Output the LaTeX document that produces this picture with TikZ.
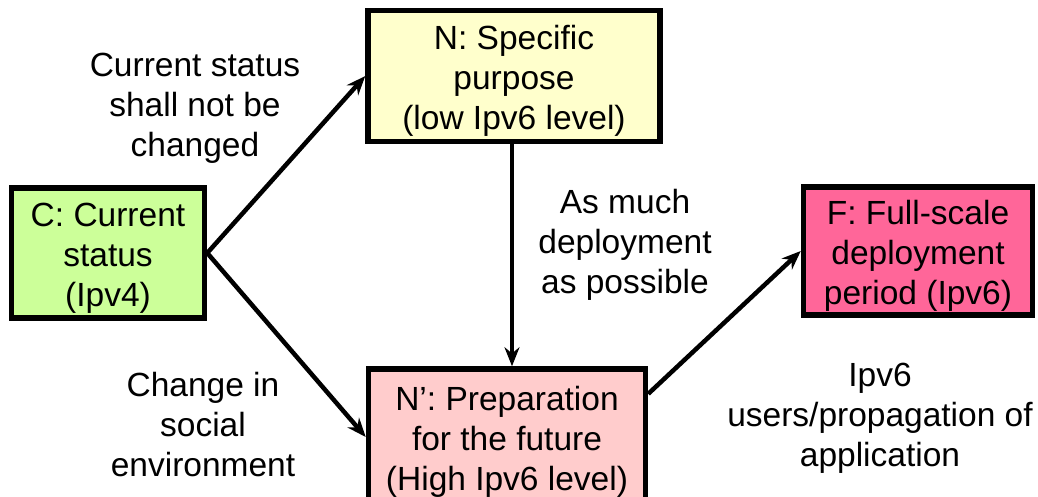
\documentclass[tikz,border=0pt]{standalone}
\usepackage{fontspec}
\setmainfont{Liberation Sans}
\usetikzlibrary{arrows.meta,positioning}
\definecolor{cgreen}{HTML}{CCFF99}
\definecolor{nyellow}{HTML}{FFFFCC}
\definecolor{npink}{HTML}{FFCCCC}
\definecolor{fpink}{HTML}{FF6699}
\newcommand{\toppad}{\rule{0pt}{33pt}}

\begin{document}
\begin{tikzpicture}
	[x=1pt,y=-1pt,
	stage/.style={shape=rectangle,draw,line width=5.5pt,align=center,
		inner sep=0pt,font=\fontsize{33.5}{40}\selectfont},
	note/.style={align=center,inner sep=0pt,font=\fontsize{33.5}{40}\selectfont},
	flow/.style={line width=4.5pt,-{Stealth[length=19pt,width=15pt]}}]
	\useasboundingbox (0,0) rectangle (1038,497);
	\node[stage,fill=cgreen,minimum width=193pt,minimum height=130pt] (C) at (108,253)
		{\toppad C: Current\\status\\(Ipv4)};
	\node[stage,fill=nyellow,minimum width=292pt,minimum height=131pt] (N) at (514,76)
		{\toppad N: Specific\\purpose\\(low Ipv6 level)};
	\node[stage,fill=npink,minimum width=277pt,minimum height=136pt] (Np) at (507,437)
		{\toppad N’: Preparation\\for the future\\(High Ipv6 level)};
	\node[stage,fill=fpink,minimum width=229pt,minimum height=128pt] (F) at (918,251)
		{\toppad F: Full-scale\\deployment\\period (Ipv6)};
	% labels on the arrows
	\node[note] (l1) at (195,108) {Current status\\shall not be\\changed};
	\node[note] (l2) at (625,245) {As much\\deployment\\as possible};
	\node[note] (l3) at (203,425) {Change in\\social\\environment};
	\node[note] (l4) at (880,418) {Ipv6\\users/propagation of\\application};
	\draw[flow] (C.east) -- (N.west);
	\draw[flow] (C.east) -- (Np.west);
	\draw[flow] ([xshift=-2pt]N.south) -- ([xshift=-2pt]N.south |- Np.north);
	\draw[flow] (Np.17) -- (F.west);
\end{tikzpicture}
\end{document}
